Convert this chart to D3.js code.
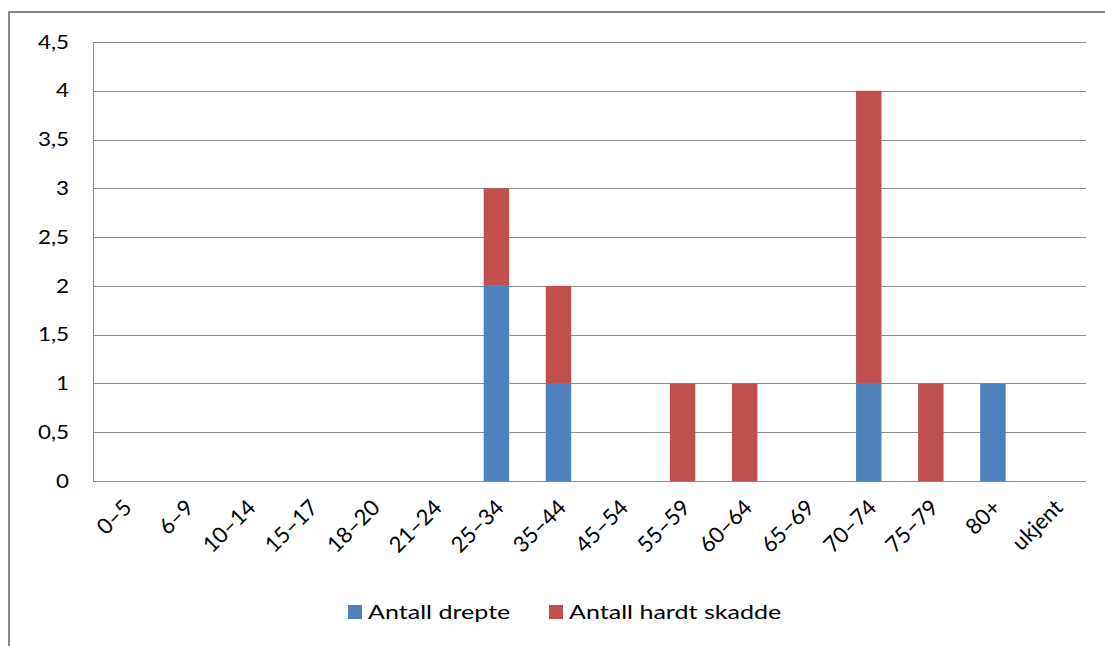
<!DOCTYPE html>
<html>
<head>
<meta charset="utf-8">
<script src="https://cdn.jsdelivr.net/npm/d3@7"></script>
<style>
  body { margin: 0; background: #fff; }
  svg text { font-family: Lato, "Open Sans", sans-serif; fill: #000; }
</style>
</head>
<body>
<div id="chart"></div>
<script>
// Age groups.
const categories = ['0–5', '6–9', '10–14', '15–17', '18–20', '21–24', '25–34', '35–44',
  '45–54', '55–59', '60–64', '65–69', '70–74', '75–79', '80+', 'ukjent']

// Series values.
const drepte = [0, 0, 0, 0, 0, 0, 2, 1, 0, 0, 0, 0, 1, 0, 1, 0]
const hardtSkadde = [0, 0, 0, 0, 0, 0, 1, 1, 0, 1, 1, 0, 3, 1, 0, 0]

const seriesNames = ['Antall drepte', 'Antall hardt skadde']
const yTicks = [0, 0.5, 1, 1.5, 2, 2.5, 3, 3.5, 4, 4.5]

const colours = ['#4F81BD', '#C0504D']

const W = 1105, H = 646
const margin = {top: 42, right: 19, bottom: 165, left: 93}
const width = W - margin.left - margin.right
const height = H - margin.top - margin.bottom

const svg = d3.select('#chart')
  .append('svg')
    .attr('width', W)
    .attr('height', H)

// Outer frame.
svg.append('rect')
  .attr('x', 9).attr('y', 12)
  .attr('width', W + 20).attr('height', H + 20)
  .attr('fill', 'none')
  .attr('stroke', '#878787')
  .attr('stroke-width', 2)

const g = svg.append('g')
  .attr('transform', 'translate(' + margin.left + ',' + margin.top + ')')

const x = d3.scaleBand()
  .domain(categories)
  .range([0, width])
  .paddingInner(0.59)
  .paddingOuter(0.295)

const y = d3.scaleLinear()
  .domain([0, 4.5])
  .range([height, 0])

// Gridlines.
g.append('g')
  .selectAll('line')
  .data(yTicks)
  .enter()
  .append('line')
    .attr('x1', 0)
    .attr('x2', width)
    .attr('y1', d => Math.round(y(d)) + 0.5)
    .attr('y2', d => Math.round(y(d)) + 0.5)
    .attr('stroke', '#8c8c8c')
    .attr('stroke-width', 1)

// Left axis line.
g.append('line')
  .attr('x1', 0.5).attr('x2', 0.5)
  .attr('y1', 0).attr('y2', height)
  .attr('stroke', '#8c8c8c')

// Y axis labels (slightly widened, like the original).
const fmt = d => String(d).replace('.', ',')
g.append('g')
  .selectAll('text')
  .data(yTicks)
  .enter()
  .append('text')
    .attr('transform', d => 'translate(-24,' + y(d) + ') scale(1.18,1)')
    .attr('text-anchor', 'end')
    .attr('dy', '0.35em')
    .style('font-size', '19px')
    .text(fmt)

// Stacked bars.
const table = categories.map((c, i) => ({cat: c, d: drepte[i], h: hardtSkadde[i]}))
const stack = d3.stack().keys(['d', 'h'])(table)

g.selectAll('.series')
  .data(stack)
  .enter()
  .append('g')
    .attr('fill', (s, i) => colours[i])
  .selectAll('rect')
  .data(s => s.filter(v => v[1] - v[0] > 0))
  .enter()
  .append('rect')
    .attr('x', v => x(v.data.cat))
    .attr('y', v => y(v[1]))
    .attr('width', x.bandwidth())
    .attr('height', v => y(v[0]) - y(v[1]))

// X axis labels (rotated).
const xAxis = d3.axisBottom(x).tickSize(0).tickPadding(0)
g.append('g')
  .attr('transform', 'translate(0,' + height + ')')
  .call(xAxis)
  .call(s => s.select('.domain').remove())
  .selectAll('text')
    .style('font-size', '22px')
    .attr('text-anchor', 'end')
    .attr('dy', null)
    .attr('y', 0)
    .attr('transform', 'translate(9,28) rotate(-45)')

// Legend.
const legendX = [348, 549]
const legend = svg.append('g')
seriesNames.forEach((name, i) => {
  legend.append('rect')
    .attr('x', legendX[i]).attr('y', 605)
    .attr('width', 14).attr('height', 14)
    .attr('fill', colours[i])
  legend.append('text')
    .attr('transform', 'translate(' + (legendX[i] + 20) + ',619) scale(1.32,1)')
    .style('font-size', '19px')
    .text(name)
})
</script>
</body>
</html>
